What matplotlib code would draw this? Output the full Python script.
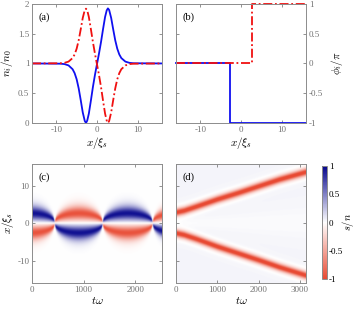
import numpy as np
import matplotlib
matplotlib.use('Agg')
import matplotlib.pyplot as plt
from matplotlib.colors import LinearSegmentedColormap

plt.rcParams['font.family'] = 'Liberation Serif'
plt.rcParams['mathtext.fontset'] = 'cm'
plt.rcParams['axes.unicode_minus'] = False

# (a) densities n_i/n_0
x_pts = [-16, -9, -8, -7, -6, -5.5, -5, -4.5, -4, -3.5, -3, -2.7, -2.4, -2, -1.5, -1, -0.5, 0,
         0.5, 1, 1.5, 2, 2.4, 2.7, 3, 3.5, 4, 4.5, 5, 5.5, 6, 7, 8, 9, 16]
n1_pts = [1.0, 0.996, 0.989, 0.967, 0.903, 0.837, 0.734, 0.581, 0.385, 0.178, 0.034, 0.0, 0.040,
          0.157, 0.374, 0.603, 0.806, 0.987, 1.166, 1.361, 1.577, 1.781, 1.891, 1.925, 1.898,
          1.764, 1.572, 1.389, 1.248, 1.151, 1.090, 1.031, 1.010, 1.003, 1.0]
n2_pts = [1.0, 1.003, 1.010, 1.031, 1.090, 1.151, 1.248, 1.389, 1.572, 1.764, 1.898, 1.920, 1.891,
          1.781, 1.577, 1.361, 1.166, 0.987, 0.806, 0.603, 0.374, 0.157, 0.040, 0.0, 0.034,
          0.178, 0.385, 0.581, 0.734, 0.837, 0.903, 0.967, 0.989, 0.996, 1.0]

# (b) phases phi_i/pi
phi1_x = [-16, -2.7, -2.7, 16]
phi1 = [0, 0, -1, -1]
phi2_x = [-16, 2.7, 2.7, 16]
phi2 = [0, 0, 1, 1]

# (c) oscillating pair: times where s/n flips sign, soliton offset and width
swap_t = np.array([-480, 440, 1370, 2340, 3300])
d0 = 2.6
w0 = 1.8
amp_c = 0.96

# (d) separating pair: track of the upper/lower band centres
track_t = [0, 200, 500, 1000, 1500, 2000, 2500, 3145]
track_up = [2.8, 3.3, 4.4, 6.3, 8.0, 9.8, 11.6, 13.6]
track_lo = [-2.7, -3.2, -4.3, -6.3, -8.1, -9.9, -11.8, -14.0]
bg_d = 0.04
wd = 0.9

cmap = LinearSegmentedColormap.from_list(
    'sn', [(0.0, (0.91, 0.29, 0.20)), (0.5, (1, 1, 1)), (1.0, (0.02, 0.02, 0.55))])

gray = '0.45'
blue = '#1010f0'
red = '#f01010'
dashdot = (0, (5, 1.5, 1, 1.5))


def sech2(z):
    return 1.0 / np.cosh(z) ** 2


def style(ax):
    for s in ax.spines.values():
        s.set_color('0.55')
        s.set_linewidth(0.7)
    ax.tick_params(direction='in', length=2.5, width=0.6, color='0.5',
                   labelcolor=gray, labelsize=6.5, top=True, right=True, pad=2)


fig = plt.figure(figsize=(3.57, 3.11), dpi=100)
ax_a = fig.add_axes([0.0896, 0.6045, 0.364, 0.383])
ax_b = fig.add_axes([0.493, 0.6045, 0.364, 0.383])
ax_c = fig.add_axes([0.0896, 0.090, 0.364, 0.383])
ax_d = fig.add_axes([0.493, 0.090, 0.364, 0.383])
cax = fig.add_axes([0.902, 0.103, 0.014, 0.363])

# (a)
ax_a.plot(x_pts, n1_pts, color=blue, lw=1.3)
ax_a.plot(x_pts, n2_pts, color=red, lw=1.3, ls=dashdot)
ax_a.set_xlim(-16, 16)
ax_a.set_ylim(0, 2)
ax_a.set_xticks([-10, 0, 10])
ax_a.set_yticks([0, 0.5, 1, 1.5, 2])
ax_a.set_yticklabels(['0', '0.5', '1', '1.5', '2'])
ax_a.set_xlabel(r'$x/\xi_s$', fontsize=8, labelpad=1)
ax_a.set_ylabel(r'$n_i/n_0$', fontsize=8, labelpad=2)
style(ax_a)
ax_a.text(0.05, 0.93, '(a)', transform=ax_a.transAxes, fontsize=7.5, va='top')

# (b)
ax_b.plot(phi1_x, phi1, color=blue, lw=1.3, clip_on=False)
ax_b.plot(phi2_x, phi2, color=red, lw=1.3, ls=dashdot, clip_on=False)
ax_b.set_xlim(-16, 16)
ax_b.set_ylim(-1, 1)
ax_b.set_xticks([-10, 0, 10])
ax_b.set_yticks([-1, -0.5, 0, 0.5, 1])
ax_b.set_yticklabels(['-1', '-0.5', '0', '0.5', '1'])
style(ax_b)
ax_b.tick_params(labelleft=False, labelright=True)
ax_b.yaxis.set_label_position('right')
ax_b.set_xlabel(r'$x/\xi_s$', fontsize=8, labelpad=1)
ax_b.set_ylabel(r'$\phi_i/\pi$', fontsize=8, rotation=90, labelpad=4)
ax_b.text(0.05, 0.93, '(b)', transform=ax_b.transAxes, fontsize=7.5, va='top')

# (c)
tc = np.linspace(0, 2520, 700)
yy = np.linspace(-16, 16, 480)
T, Y = np.meshgrid(tc, yy)
seg = np.searchsorted(swap_t, T) - 1
a = swap_t[seg]
b = swap_t[seg + 1]
u = (T - a) / (b - a)
f = np.sin(np.pi * u) ** 0.4
sign = np.where(seg % 2 == 0, 1.0, -1.0)
d = d0 * f
w = w0 * f + 1e-3
Sc = sign * amp_c * (sech2((Y - d) / w) - sech2((Y + d) / w)) * np.clip(f * 2.5, 0, 1)
ax_c.imshow(Sc, extent=[0, 2520, -16, 16], origin='lower', aspect='auto',
            cmap=cmap, vmin=-1, vmax=1, interpolation='bilinear')
ax_c.set_xlim(0, 2520)
ax_c.set_ylim(-16, 16)
ax_c.set_xticks([0, 1000, 2000])
ax_c.set_yticks([-10, 0, 10])
ax_c.set_xlabel(r'$t\omega$', fontsize=8, labelpad=1)
ax_c.set_ylabel(r'$x/\xi_s$', fontsize=8, labelpad=1)
style(ax_c)
ax_c.text(0.05, 0.93, '(c)', transform=ax_c.transAxes, fontsize=7.5, va='top')

# (d)
td = np.linspace(0, 3145, 700)
T2, Y2 = np.meshgrid(td, yy)
yu = np.interp(T2, track_t, track_up)
yl = np.interp(T2, track_t, track_lo)
bg = bg_d * (1 - 0.6 * np.exp(-(Y2 / (0.3 * yu)) ** 2))
Sd = bg - 1.15 * (sech2((Y2 - yu) / wd) + sech2((Y2 - yl) / wd))
im = ax_d.imshow(np.clip(Sd, -1, 1), extent=[0, 3145, -16, 16], origin='lower',
                 aspect='auto', cmap=cmap, vmin=-1, vmax=1, interpolation='bilinear')
ax_d.set_xlim(0, 3145)
ax_d.set_ylim(-16, 16)
ax_d.set_xticks([0, 1000, 2000, 3000])
ax_d.set_yticks([-10, 0, 10])
style(ax_d)
ax_d.tick_params(labelleft=False)
ax_d.set_xlabel(r'$t\omega$', fontsize=8, labelpad=1)
ax_d.text(0.05, 0.93, '(d)', transform=ax_d.transAxes, fontsize=7.5, va='top')

cb = fig.colorbar(im, cax=cax, ticks=[-1, -0.5, 0, 0.5, 1])
cb.ax.set_yticklabels(['-1', '-0.5', '0', '0.5', '1'])
cb.outline.set_edgecolor('0.55')
cb.outline.set_linewidth(0.7)
cb.ax.tick_params(length=0, labelsize=6.5, pad=1.5)
fig.text(0.975, 0.285, r'$s/n$', fontsize=7.5, rotation=90, ha='center', va='center')

fig.savefig('out.png', dpi=100)
